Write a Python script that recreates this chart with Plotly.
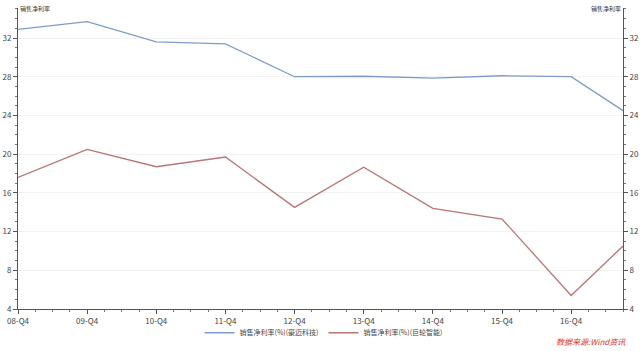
import plotly.graph_objects as go

quarters = ["08-Q4", "09-Q4", "10-Q4", "11-Q4", "12-Q4", "13-Q4", "14-Q4", "15-Q4", "16-Q4", "17-Q3"]
# quarter index relative to 08-Q4
q_index = [0, 4, 8, 12, 16, 20, 24, 28, 32, 35]
haomai = [32.9, 33.7, 31.6, 31.4, 28.0, 28.05, 27.85, 28.1, 28.0, 24.5]
julun = [17.6, 20.5, 18.7, 19.7, 14.5, 18.65, 14.4, 13.3, 5.4, 10.5]
tick_labels = ["08-Q4", "09-Q4", "10-Q4", "11-Q4", "12-Q4", "13-Q4", "14-Q4", "15-Q4", "16-Q4"]
tick_pos = [0, 4, 8, 12, 16, 20, 24, 28, 32]
y_ticks = [4, 8, 12, 16, 20, 24, 28, 32]

FONT = "Noto Sans CJK SC"

fig = go.Figure()
fig.add_trace(go.Scatter(x=q_index, y=haomai, mode="lines", name="销售净利率(%)(豪迈科技)",
                         line=dict(color="#7d9cc8", width=1.3)))
fig.add_trace(go.Scatter(x=q_index, y=julun, mode="lines", name="销售净利率(%)(巨轮智能)",
                         line=dict(color="#b97474", width=1.3)))
fig.add_trace(go.Scatter(x=q_index, y=julun, mode="lines", yaxis="y2", showlegend=False,
                         hoverinfo="skip", line=dict(color="rgba(0,0,0,0)", width=0)))

axis_common = dict(range=[4, 35.1], tickvals=y_ticks, ticks="outside", ticklen=4,
                   tickcolor="#555", showline=True, linecolor="#555", linewidth=1,
                   tickfont=dict(size=8, color="#444", family=FONT), automargin=False,
                   minor=dict(dtick=1, ticks="outside", ticklen=2, tickcolor="#777", showgrid=False),
                   zeroline=False)

fig.update_layout(
    width=640, height=351,
    margin=dict(l=18, r=17, t=8, b=42),
    paper_bgcolor="white", plot_bgcolor="white",
    font=dict(family=FONT, size=8, color="#444"),
    xaxis=dict(range=[0, 35], tickvals=tick_pos, ticktext=tick_labels, ticks="outside",
               ticklen=4, tickcolor="#555", showline=True, linecolor="#555", showgrid=False,
               zeroline=False, automargin=False, tickfont=dict(size=8, color="#444", family=FONT),
               minor=dict(dtick=1, tick0=0, ticks="outside", ticklen=2, tickcolor="#777")),
    yaxis=dict(side="left", showgrid=True, gridcolor="#f2f2f2", gridwidth=1, **axis_common),
    yaxis2=dict(side="right", overlaying="y", showgrid=False, **axis_common),
    legend=dict(orientation="h", x=0.505, xanchor="center", xref="paper",
                y=0.052, yanchor="middle", yref="container",
                font=dict(size=7, color="#444", family=FONT), itemwidth=30,
                bgcolor="rgba(0,0,0,0)"),
    showlegend=True,
)

fig.add_annotation(text="销售净利率", x=0, xref="paper", y=1.0, yref="paper",
                   xanchor="left", yanchor="middle", showarrow=False,
                   font=dict(size=6, color="#333", family=FONT))
fig.add_annotation(text="销售净利率", x=1, xref="paper", y=1.0, yref="paper",
                   xanchor="right", yanchor="middle", showarrow=False,
                   font=dict(size=6, color="#333", family=FONT))
fig.add_annotation(text="<i>数据来源:Wind资讯</i>", x=1.008, xref="paper", y=-0.133, yref="paper",
                   xanchor="right", yanchor="bottom", showarrow=False,
                   font=dict(size=8, color="#d9342b", family=FONT))

fig.write_html("out.html")
